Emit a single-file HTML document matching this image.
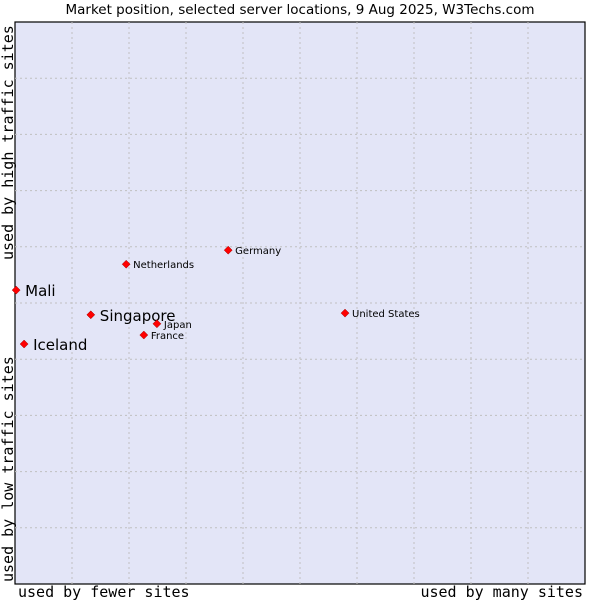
<!DOCTYPE html>
<html><head><meta charset="utf-8"><style>
body{margin:0;background:#fff}
svg text{font-family:"DejaVu Sans","Liberation Sans",sans-serif}
.mono{font-family:"DejaVu Sans Mono","Liberation Mono",monospace}
</style></head><body>
<svg id="chart" width="600" height="600" xmlns="http://www.w3.org/2000/svg">
<text x="300" y="14" text-anchor="middle" font-size="13.5" fill="#000">Market position, selected server locations, 9 Aug 2025, W3Techs.com</text>
<rect x="15" y="22" width="570" height="562" fill="#e3e5f7" stroke="#000" stroke-width="1.2"/>
<g id="grid"></g>
<g id="points"></g>
<text class="mono" x="18" y="597" font-size="15">used by fewer sites</text>
<text class="mono" x="583" y="597" font-size="15" text-anchor="end">used by many sites</text>
<text class="mono" transform="translate(13,582) rotate(-90)" font-size="15">used by low traffic sites</text>
<text class="mono" transform="translate(13,260) rotate(-90)" font-size="15">used by high traffic sites</text>
</svg>
<script>
const names=["Mali","Singapore","Iceland","Netherlands","Germany","United States","Japan","France"];
const xVals=[0.2,13.3,1.6,19.5,37.4,57.9,24.9,22.6];
const yVals=[52.3,47.9,42.7,56.9,59.4,48.2,46.3,44.3];
const big=[true,true,true,false,false,false,false,false];
const L=15,T=22,W=570,H=562;
const sx=v=>L+v/100*W, sy=v=>T+H-v/100*H;
const NS="http://www.w3.org/2000/svg";
const grid=document.getElementById('grid');
for(let i=1;i<10;i++){
  const a=document.createElementNS(NS,'line');
  
  
  a.setAttribute('x1',sx(i*10));a.setAttribute('x2',sx(i*10));a.setAttribute('y1',T);a.setAttribute('y2',T+H);
  a.setAttribute('stroke','#c0c0c0');a.setAttribute('stroke-dasharray','2,3');grid.appendChild(a);
  const b=document.createElementNS(NS,'line');
  
  
  b.setAttribute('y1',sy(i*10));b.setAttribute('y2',sy(i*10));b.setAttribute('x1',L);b.setAttribute('x2',L+W);
  b.setAttribute('stroke','#c0c0c0');b.setAttribute('stroke-dasharray','2,3');grid.appendChild(b);
}
const pts=document.getElementById('points');
names.forEach((n,i)=>{
  const x=sx(xVals[i]),y=sy(yVals[i]);
  const d=document.createElementNS(NS,'path');
  
  
  d.setAttribute('d',`M${x},${y-4}L${x+4},${y}L${x},${y+4}L${x-4},${y}Z`);
  d.setAttribute('fill','#f00');d.setAttribute('stroke','#900');d.setAttribute('stroke-width','0.5');
  pts.appendChild(d);
  const t=document.createElementNS(NS,'text');
  
  
  t.setAttribute('x',x+(big[i]?9:7));t.setAttribute('y',y+(big[i]?6:4));
  t.setAttribute('font-size',big[i]?'15':'10');
  t.textContent=n;pts.appendChild(t);
});
</script>
</body></html>
